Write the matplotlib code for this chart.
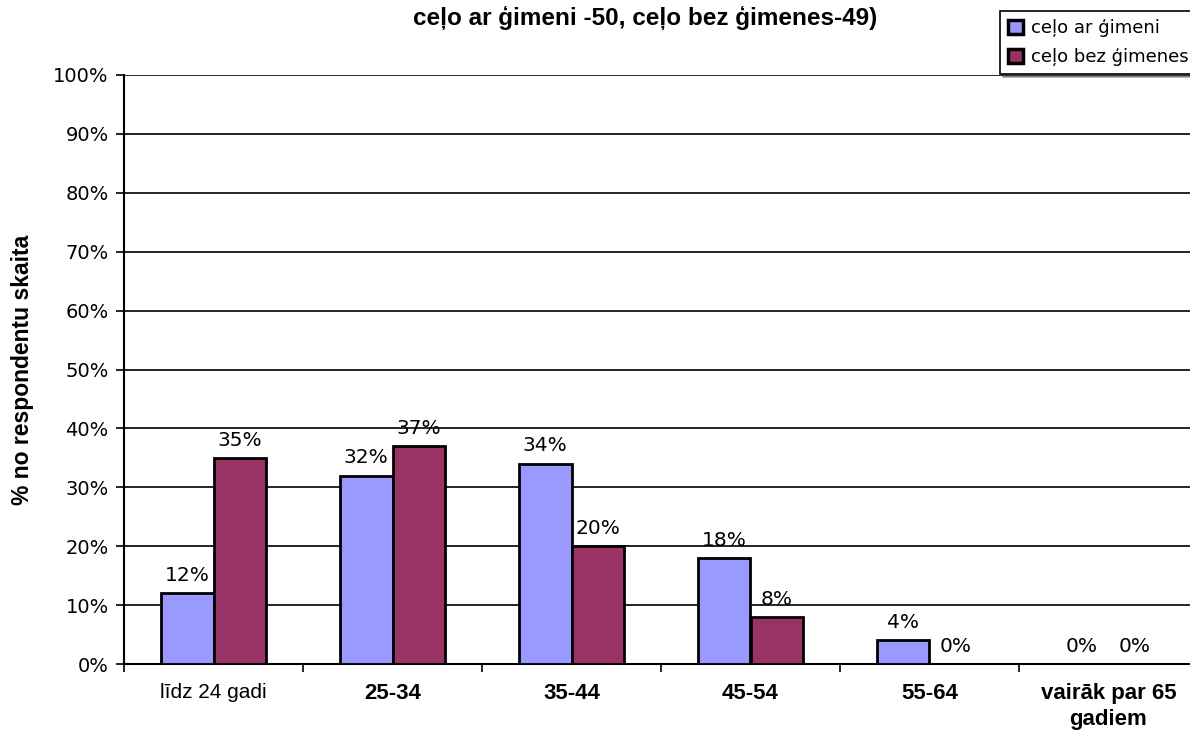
#!/usr/bin/env python3
"""Age distribution of respondents travelling with / without family."""

import matplotlib
matplotlib.use("Agg")
import matplotlib.pyplot as plt
import numpy as np

categories = ["līdz 24 gadi", "25-34", "35-44", "45-54", "55-64", "vairāk par 65\ngadiem"]
with_family = [12, 32, 34, 18, 4, 0]
without_family = [35, 37, 20, 8, 0, 0]
series_names = ["ceļo ar ģimeni", "ceļo bez ģimenes"]
title = "ceļo ar ģimeni -50, ceļo bez ģimenes-49)"
y_label = "% no respondentu skaita"

BLUE = "#9999FF"
PLUM = "#993366"

fig = plt.figure(figsize=(11.9, 7.35), dpi=100)
ax = fig.add_axes([124 / 1190, 1 - 664 / 735, 1074 / 1190, 589 / 735])

x = np.arange(len(categories))
w = 0.296
b1 = ax.bar(x - w / 2, with_family, w, color=BLUE, edgecolor="black", linewidth=2, zorder=3,
            label=series_names[0])
b2 = ax.bar(x + w / 2, without_family, w, color=PLUM, edgecolor="black", linewidth=2, zorder=3,
            label=series_names[1])

for bars, vals in ((b1, with_family), (b2, without_family)):
    for rect, v in zip(bars, vals):
        ax.annotate(f"{v}%", (rect.get_x() + rect.get_width() / 2, v),
                    xytext=(0, 6), textcoords="offset points", ha="center", va="bottom",
                    fontsize=14.5, family="DejaVu Sans", zorder=4)

ax.set_xlim(-0.5, len(categories) - 0.5)
ax.set_ylim(0, 100)
ax.set_yticks(np.arange(0, 101, 10))
ax.set_yticklabels([f"{t}%" for t in range(0, 101, 10)], fontsize=14, family="DejaVu Sans")
ax.yaxis.grid(True, color="black", linewidth=1.2, zorder=0)
ax.tick_params(axis="y", direction="out", length=6, width=1.2, pad=5)

ax.set_xticks(np.arange(-0.5, len(categories)), minor=True)
ax.set_xticks(x)
ax.set_xticklabels(categories, fontsize=16, family="Liberation Sans", fontweight="bold",
                   linespacing=1.3)
ax.get_xticklabels()[0].set_fontweight("normal")
ax.get_xticklabels()[0].set_fontsize(15)
ax.tick_params(axis="x", which="major", length=0, pad=14)
ax.tick_params(axis="x", which="minor", direction="out", length=6, width=1.2)

for side in ("top", "right"):
    ax.spines[side].set_visible(False)
for side in ("left", "bottom"):
    ax.spines[side].set_linewidth(1.5)

ax.set_ylabel(y_label, fontsize=16.5, fontweight="bold", family="Liberation Sans", labelpad=14)

fig.text(645 / 1190, 1 - 18 / 735, title, ha="center", va="center", fontsize=17.5,
         fontweight="bold", family="Liberation Sans")

leg = fig.legend(loc="upper left", bbox_to_anchor=(1000 / 1190, 1 - 11 / 735),
                 fancybox=False, shadow=True, edgecolor="black", framealpha=1,
                 prop={"family": "DejaVu Sans", "size": 13}, handlelength=0.8,
                 handleheight=0.8, handletextpad=0.45, borderpad=0.45, labelspacing=0.6,
                 borderaxespad=0)
leg.get_frame().set_linewidth(1.2)
for h in leg.legend_handles:
    h.set_linewidth(2.5)

fig.savefig("out.png", dpi=100)
